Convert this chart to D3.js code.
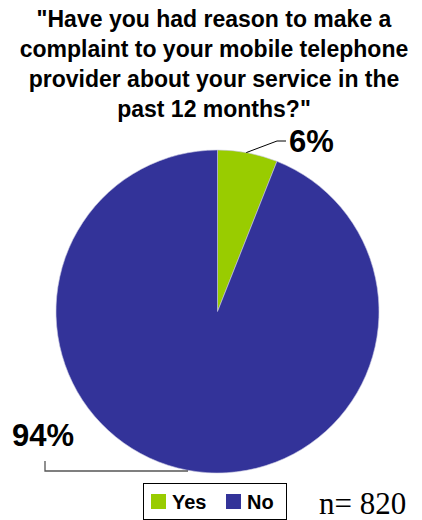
<!DOCTYPE html>
<html>
<head>
<meta charset="utf-8">
<script src="https://cdn.jsdelivr.net/npm/d3@7"></script>
<style>
  html, body { margin: 0; padding: 0; background: #fff; }
  svg { display: block; }
</style>
</head>
<body>
<script>
// Survey answers and their shares (percent)
const categories = ["Yes", "No"];
const values = [6, 94];
const colors = ["#99CC00", "#333399"];
const titleLines = [
  "\"Have you had reason to make a",
  "complaint to your mobile telephone",
  "provider about your service in the",
  "past 12 months?\""
];
const sampleNote = "n= 820";

const W = 422, H = 520;
const svg = d3.select("body").append("svg").attr("width", W).attr("height", H);

// Title
svg.append("g").selectAll("text").data(titleLines).join("text")
  .attr("x", 214)
  .attr("y", (d, i) => 27 + i * 30)
  .attr("text-anchor", "middle")
  .attr("font-family", "'Liberation Sans', Arial, sans-serif")
  .attr("font-weight", "bold")
  .attr("font-size", 23)
  .attr("fill", "#000")
  .text(d => d);

// Pie
const cx = 217.5, cy = 311.5, r = 161.5;
const pie = d3.pie().sort(null).value(d => d)(values);
const arc = d3.arc().innerRadius(0).outerRadius(r);
const g = svg.append("g").attr("transform", `translate(${cx},${cy})`);
g.selectAll("path").data(pie).join("path")
  .attr("d", arc)
  .attr("fill", (d, i) => colors[i])
  .attr("stroke", "#c8c8e0")
  .attr("stroke-width", 0.6);

// Leader lines and percent labels
const pct = d => `${d}%`;
const yesMid = (pie[0].startAngle + pie[0].endAngle) / 2;
const yesEdge = [Math.sin(yesMid * 0.95) * r, -Math.cos(yesMid * 0.95) * r];
svg.append("polyline")
  .attr("points", [
    [cx + yesEdge[0], cy + yesEdge[1]],
    [277, 141],
    [286, 141]
  ].map(p => p.join(",")).join(" "))
  .attr("fill", "none").attr("stroke", "#000").attr("stroke-width", 1);

svg.append("text")
  .attr("x", 289).attr("y", 152)
  .attr("font-family", "'Liberation Sans', Arial, sans-serif")
  .attr("font-weight", "bold").attr("font-size", 31)
  .text(pct(values[0]));

svg.append("polyline")
  .attr("points", [[45, 461], [45, 471], [188, 471]].map(p => p.join(",")).join(" "))
  .attr("fill", "none").attr("stroke", "#555").attr("stroke-width", 1.3);

svg.append("text")
  .attr("x", 12).attr("y", 446)
  .attr("font-family", "'Liberation Sans', Arial, sans-serif")
  .attr("font-weight", "bold").attr("font-size", 31)
  .text(pct(values[1]));

// Legend
const lg = svg.append("g");
lg.append("rect")
  .attr("x", 143.5).attr("y", 483.5).attr("width", 143).attr("height", 36)
  .attr("fill", "#fff").attr("stroke", "#000").attr("stroke-width", 1);
const legendX = [151, 226];
const items = lg.selectAll("g.item").data(categories).join("g")
  .attr("class", "item")
  .attr("transform", (d, i) => `translate(${legendX[i]},0)`);
items.append("rect")
  .attr("x", 0).attr("y", 494).attr("width", 15).attr("height", 15)
  .attr("fill", (d, i) => colors[i]);
items.append("text")
  .attr("x", 21).attr("y", 509)
  .attr("font-family", "'Liberation Sans', Arial, sans-serif")
  .attr("font-weight", "bold").attr("font-size", 20)
  .text(d => d);

// Sample size
svg.append("text")
  .attr("x", 319).attr("y", 514)
  .attr("font-family", "'Liberation Serif', 'Times New Roman', serif")
  .attr("font-size", 31)
  .text(sampleNote);
</script>
</body>
</html>
